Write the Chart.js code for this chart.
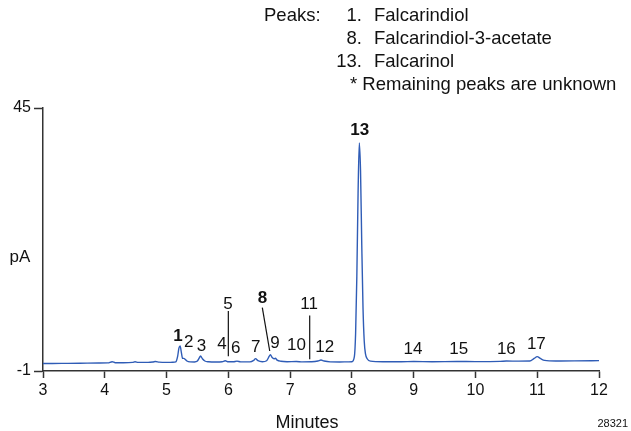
<!DOCTYPE html>
<html>
<head>
<meta charset="utf-8">
<script src="https://cdn.jsdelivr.net/npm/chart.js@4.4.1/dist/chart.umd.min.js"></script>
<style>
  body { margin: 0; background: #fff; }
  #wrap { width: 631px; height: 431px; position: relative; }
</style>
</head>
<body>
<div id="wrap"><canvas id="chart"></canvas></div>
<script>
// retention time (min) and detector signal (pA)
const minutes = [
  3.0, 3.3, 3.6, 3.9, 4.05, 4.12, 4.17, 4.3, 4.45, 4.49, 4.54, 4.7, 4.78, 4.82, 4.88, 5.0,
  5.1, 5.15, 5.18, 5.2, 5.22, 5.24, 5.26, 5.28, 5.3, 5.33, 5.38, 5.45, 5.5, 5.53, 5.55, 5.58,
  5.62, 5.68, 5.8, 5.9, 5.95, 6.0, 6.08, 6.14, 6.2, 6.35, 6.41, 6.44, 6.48, 6.55, 6.62, 6.66,
  6.68, 6.71, 6.74, 6.76, 6.79, 6.85, 6.95, 7.1, 7.2, 7.35, 7.45, 7.5, 7.55, 7.65, 7.8, 7.95,
  8.0, 8.04, 8.06, 8.08, 8.1, 8.12, 8.14, 8.16, 8.18, 8.2, 8.22, 8.25, 8.3, 8.5, 8.8, 9.0,
  9.3, 9.7, 10.0, 10.4, 10.5, 10.7, 10.88, 10.95, 11.0, 11.05, 11.12, 11.3, 11.6, 12.0
]
const signal = [
  0.30, 0.33, 0.36, 0.40, 0.42, 0.62, 0.45, 0.45, 0.50, 0.62, 0.50, 0.50, 0.58, 0.66, 0.55, 0.50,
  0.52, 0.60, 1.6, 3.0, 3.4, 2.2, 1.2, 1.2, 1.05, 0.75, 0.60, 0.58, 0.75, 1.3, 1.62, 1.15,
  0.75, 0.62, 0.58, 0.62, 0.78, 0.62, 0.62, 0.72, 0.60, 0.60, 0.85, 1.17, 0.80, 0.62, 0.80, 1.55,
  1.87, 1.35, 1.15, 1.22, 0.90, 0.70, 0.62, 0.66, 0.60, 0.62, 0.75, 0.92, 0.75, 0.60, 0.58, 0.60,
  0.62, 1.5, 5.5, 15.5, 30, 38.9, 34, 21, 10, 4.2, 2.0, 1.1, 0.72, 0.62, 0.62, 0.66,
  0.62, 0.66, 0.64, 0.68, 0.74, 0.72, 0.74, 1.2, 1.52, 1.2, 0.85, 0.76, 0.77, 0.81
]

const xTicks = [3, 4, 5, 6, 7, 8, 9, 10, 11, 12]
const yTicks = [-1, 45]

const peakNumbers = ['1', '2', '3', '4', '5', '6', '7', '8', '9', '10', '11', '12', '13', '14', '15', '16', '17']
const namedPeaks = ['1', '8', '13']
const legendNumbers = ['1.', '8.', '13.']
const legendNames = ['Falcarindiol', 'Falcarindiol-3-acetate', 'Falcarinol']

// where each peak number sits, in (min, pA)
const labelSpots = [
  [5.185, 5.1], [5.358, 4.0], [5.564, 3.4], [5.897, 3.7], [5.994, 10.7], [6.119, 3.0],
  [6.443, 3.2], [6.551, 11.7], [6.755, 3.8], [7.102, 3.5], [7.306, 10.7], [7.56, 3.2],
  [8.126, 41.1], [8.989, 2.8], [9.729, 2.8], [10.5, 2.8], [10.986, 3.7]
]
// leader lines for the tall labels
const leaders = [
  [[6.0, 9.5], [6.0, 1.6]],
  [[6.55, 10.1], [6.67, 2.5]],
  [[7.317, 8.7], [7.317, 1.05]]
]

const FONT = '"Liberation Sans", Arial, sans-serif'

const annotate = {
  id: 'annotate',
  afterDraw(chart) {
    const { ctx, scales: { x, y } } = chart
    ctx.save()
    ctx.fillStyle = '#111'
    ctx.textAlign = 'center'
    ctx.textBaseline = 'middle'
    peakNumbers.forEach((n, i) => {
      const bold = namedPeaks.includes(n)
      ctx.font = (bold ? 'bold ' : '') + '17px ' + FONT
      ctx.fillText(n, x.getPixelForValue(labelSpots[i][0]), y.getPixelForValue(labelSpots[i][1]))
    })

    ctx.strokeStyle = '#111'
    ctx.lineWidth = 1.2
    leaders.forEach(([a, b]) => {
      ctx.beginPath()
      ctx.moveTo(x.getPixelForValue(a[0]), y.getPixelForValue(a[1]))
      ctx.lineTo(x.getPixelForValue(b[0]), y.getPixelForValue(b[1]))
      ctx.stroke()
    })

    ctx.font = '17px ' + FONT
    ctx.fillText('pA', 20, 257)
    ctx.font = '18px ' + FONT
    ctx.fillText('Minutes', 307, 423)
    ctx.font = '11px ' + FONT
    ctx.textAlign = 'right'
    ctx.fillText('28321', 628, 424)

    // peaks legend
    ctx.font = '18.5px ' + FONT
    ctx.textAlign = 'left'
    ctx.fillText('Peaks:', 264, 16)
    legendNumbers.forEach((num, i) => {
      const ly = 16 + i * 23
      ctx.textAlign = 'right'
      ctx.fillText(num, 362, ly)
      ctx.textAlign = 'left'
      ctx.fillText(legendNames[i], 374, ly)
    })
    ctx.fillText('* Remaining peaks are unknown', 350, 16 + 3 * 23)
    ctx.restore()
  }
}

const data = {
  datasets: [{
    data: minutes.map((m, i) => ({ x: m, y: signal[i] })),
    borderColor: '#2f5cb6',
    borderWidth: 1.4,
    pointRadius: 0,
    cubicInterpolationMode: 'monotone',
    fill: false
  }]
}

const options = {
  responsive: true,
  maintainAspectRatio: false,
  animation: false,
  layout: { padding: { top: 108, right: 32, left: 0, bottom: 0 } },
  plugins: { legend: { display: false }, tooltip: { enabled: false } },
  scales: {
    x: {
      type: 'linear',
      min: 3,
      max: 12,
      afterBuildTicks: (scale) => { scale.ticks = xTicks.map(v => ({ value: v })) },
      afterFit: (scale) => { scale.height = 60 },
      ticks: { color: '#111', font: { family: FONT, size: 16 }, padding: 3, maxRotation: 0 },
      grid: { drawOnChartArea: false, drawTicks: true, tickLength: 7, tickColor: '#333', tickWidth: 1.5 },
      border: { display: true, color: '#333', width: 1.5 }
    },
    y: {
      min: -1,
      max: 45,
      afterBuildTicks: (scale) => { scale.ticks = yTicks.map(v => ({ value: v })) },
      afterFit: (scale) => { scale.width = 43 },
      ticks: { color: '#111', font: { family: FONT, size: 16 }, padding: 3 },
      grid: { drawOnChartArea: false, drawTicks: true, tickLength: 9, tickColor: '#333', tickWidth: 1.5 },
      border: { display: true, color: '#333', width: 1.5 }
    }
  }
}

new Chart(document.getElementById('chart'), { type: 'line', data, options, plugins: [annotate] })
</script>
</body>
</html>
